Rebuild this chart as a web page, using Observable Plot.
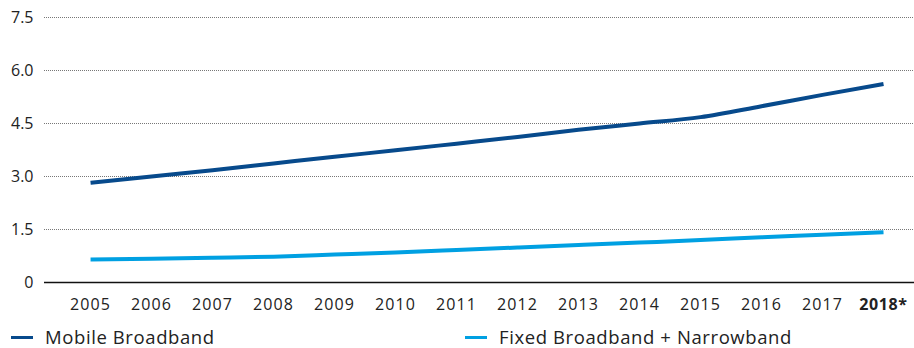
<!DOCTYPE html>
<html>
<head>
<meta charset="utf-8">
<script src="https://cdn.jsdelivr.net/npm/d3@7"></script>
<script src="https://cdn.jsdelivr.net/npm/@observablehq/plot@0.6"></script>
<style>
  html, body { margin: 0; padding: 0; background: #fff; }
  #chart { width: 914px; font-family: "Open Sans", sans-serif; }
  .legend { position: relative; height: 30px; width: 914px; }
  .legend .item { position: absolute; top: 7px; display: flex; align-items: center;
    font-size: 18.5px; line-height: 24px; color: #222; letter-spacing: 0.6px; }
  .legend .swatch { width: 22px; height: 3px; margin-right: 12px; }
</style>
</head>
<body>
<div id="chart"></div>
<script>
// Years on the x axis
const years = [2005, 2006, 2007, 2008, 2009, 2010, 2011, 2012, 2013, 2014, 2015, 2016, 2017, 2018];
// Series values
const mobileBroadband = [2.82, 3.00, 3.18, 3.37, 3.56, 3.74, 3.93, 4.12, 4.32, 4.50, 4.68, 4.99, 5.31, 5.62];
const fixedNarrowband = [0.65, 0.67, 0.70, 0.73, 0.79, 0.85, 0.92, 0.99, 1.06, 1.13, 1.20, 1.28, 1.35, 1.42];
// Axis ticks
const yTicks = [0, 1.5, 3.0, 4.5, 6.0, 7.5];
const yTickLabels = ["0", "1.5", "3.0", "4.5", "6.0", "7.5"];
const xTickLabels = ["2005", "2006", "2007", "2008", "2009", "2010", "2011", "2012", "2013", "2014", "2015", "2016", "2017", "2018*"];

const seriesNames = ["Mobile Broadband", "Fixed Broadband + Narrowband"];
const seriesColors = ["#074a8c", "#00a0e2"];

const rows = [
  ...years.map((year, i) => ({year, value: mobileBroadband[i], series: seriesNames[0]})),
  ...years.map((year, i) => ({year, value: fixedNarrowband[i], series: seriesNames[1]}))
];

const plot = Plot.plot({
  width: 914,
  height: 318,
  marginLeft: 44,
  marginRight: 0,
  marginTop: 17,
  marginBottom: 36,
  style: {fontFamily: "Open Sans, sans-serif", fontSize: "16px", color: "#222", background: "#fff"},
  x: {domain: [2004.245, 2018.508], ticks: years, tickSize: 0, tickPadding: 16,
      tickFormat: d => xTickLabels[years.indexOf(d)], label: null},
  y: {domain: [0, 7.5], ticks: yTicks, tickSize: 0, tickPadding: 11,
      tickFormat: d => yTickLabels[yTicks.indexOf(d)], label: null},
  color: {domain: seriesNames, range: seriesColors},
  marks: [
    Plot.ruleY(yTicks.filter(d => d > 0), {stroke: "#777", strokeWidth: 1, strokeDasharray: "1,1"}),
    Plot.ruleY([0], {stroke: "#111", strokeWidth: 1.5}),
    Plot.line(rows, {x: "year", y: "value", stroke: "series", z: "series",
      strokeWidth: 4, strokeLinecap: "butt", strokeLinejoin: "round", curve: "monotone-x"})
  ]
});

// Projected final year shown in bold
d3.select(plot).selectAll("[aria-label='x-axis tick label'] text")
  .attr("letter-spacing", "1.1px")
  .filter(function() { return this.textContent === "2018*"; })
  .attr("font-weight", "bold")
  .attr("letter-spacing", "0.6px");

const root = document.getElementById("chart");
root.appendChild(plot);

const legend = document.createElement("div");
legend.className = "legend";
const legendLefts = [11, 465];
seriesNames.forEach((name, i) => {
  const item = document.createElement("div");
  item.className = "item";
  item.style.left = legendLefts[i] + "px";
  const sw = document.createElement("span");
  sw.className = "swatch";
  sw.style.background = seriesColors[i];
  const label = document.createElement("span");
  label.textContent = name;
  item.appendChild(sw);
  item.appendChild(label);
  legend.appendChild(item);
});
root.appendChild(legend);
</script>
</body>
</html>
